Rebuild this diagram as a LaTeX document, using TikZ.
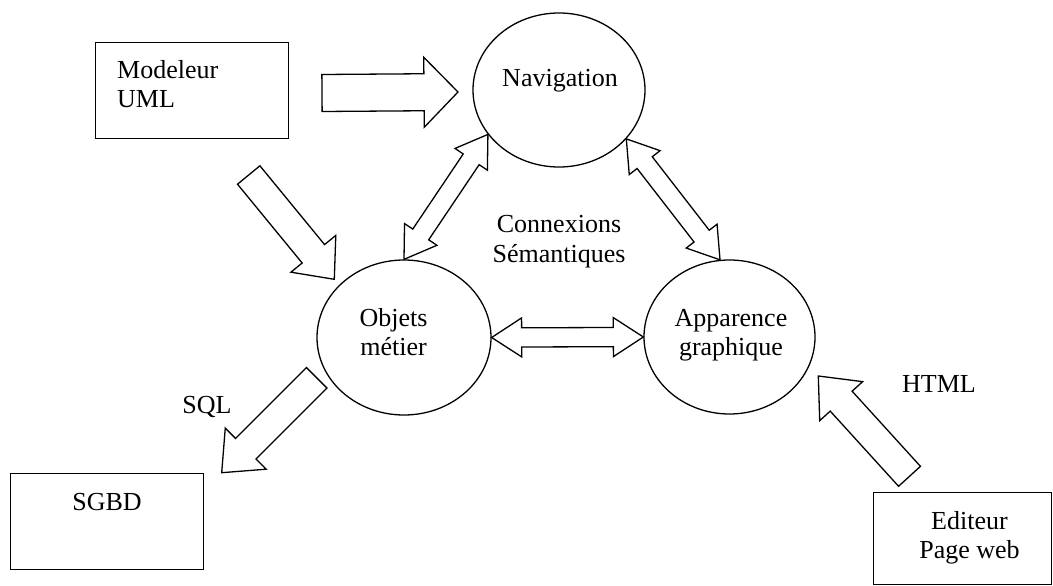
\documentclass[tikz,border=0pt]{standalone}
\usepackage{fontspec}
\setmainfont{LiberationSerif}[Extension=.ttf, UprightFont=*-Regular]
\usetikzlibrary{shapes.geometric,calc}

\tikzset{
  outline/.style={draw=black, line width=1.3pt},
  box/.style={outline, rectangle, inner sep=0pt, anchor=north west},
  bubble/.style={outline, ellipse, inner sep=0pt},
  lbl/.style={inner sep=0pt, font=\rmfamily\fontsize{26}{29.5}\selectfont},
  blockarrow/.style={outline, line join=miter},
}

% Hollow block arrow: tail, tip, shaft half-width, head half-width, head length
\newcommand\blockarrow[5]{%
  \coordinate (bkB) at ($(#2)!#5!(#1)$);
  \draw[blockarrow] ($(#1)!#3!90:(#2)$) -- ($(bkB)!#3!90:(#2)$)
    -- ($(bkB)!#4!90:(#2)$) -- (#2) -- ($(bkB)!#4!-90:(#2)$)
    -- ($(bkB)!#3!-90:(#2)$) -- ($(#1)!#3!-90:(#2)$) -- cycle;
}
% Hollow double-headed block arrow between two tips
\newcommand\blockdarrow[5]{%
  \coordinate (bkA) at ($(#1)!#5!(#2)$);
  \coordinate (bkB) at ($(#2)!#5!(#1)$);
  \draw[blockarrow] (#1) -- ($(bkA)!#4!90:(#2)$) -- ($(bkA)!#3!90:(#2)$)
    -- ($(bkB)!#3!90:(#2)$) -- ($(bkB)!#4!90:(#2)$) -- (#2)
    -- ($(bkB)!#4!-90:(#2)$) -- ($(bkB)!#3!-90:(#2)$)
    -- ($(bkA)!#3!-90:(#2)$) -- ($(bkA)!#4!-90:(#2)$) -- cycle;
}

\begin{document}
\begin{tikzpicture}[x=1pt,y=-1pt]
  \useasboundingbox (0,0) rectangle (1053,586);

  % tools (rectangles)
  \node[box, minimum width=193pt, minimum height=96pt] (uml) at (95,42) {};
  \node[box, minimum width=193pt, minimum height=96pt] (sgbd) at (10,473) {};
  \node[box, minimum width=178pt, minimum height=92pt] (web) at (873,492) {};

  % layers (ellipses)
  \node[bubble, minimum width=172pt, minimum height=154pt] (nav) at (559,90) {};
  \node[bubble, minimum width=174pt, minimum height=155pt] (obj) at (404,337.5) {};
  \node[bubble, minimum width=171pt, minimum height=154pt] (app) at (729.5,337) {};

  % texts
  \node[lbl, anchor=base west] at (117,78) {\begin{tabular}[t]{@{}l@{}}Modeleur\\UML\end{tabular}};
  \node[lbl, anchor=base] at (107,510) {SGBD};
  \node[lbl, anchor=base] at (969.5,529) {\begin{tabular}[t]{@{}c@{}}Editeur\\Page web\end{tabular}};
  \node[lbl, anchor=base] at (560,87) {Navigation};
  \node[lbl, anchor=base] at (393.5,326) {\begin{tabular}[t]{@{}c@{}}Objets\\métier\end{tabular}};
  \node[lbl, anchor=base] at (731,326) {\begin{tabular}[t]{@{}c@{}}Apparence\\graphique\end{tabular}};
  \node[lbl, anchor=base] at (559,232.7) {\begin{tabular}[t]{@{}c@{}}Connexions\\Sémantiques\end{tabular}};
  \node[lbl, anchor=base] at (207,413) {SQL};
  \node[lbl, anchor=base] at (939,392.7) {HTML};

  % free ends of the tool arrows
  \coordinate (umlnavT) at (322,93);
  \coordinate (umlnavH) at (458,92);
  \coordinate (umlobjT) at (248.7,175);
  \coordinate (umlobjH) at (334.3,279.3);
  \coordinate (sqlT) at (316.7,377.8);
  \coordinate (sqlH) at (221.7,472.7);
  \coordinate (htmlT) at (909.5,476.3);
  \coordinate (htmlH) at (818.3,376);

  \blockarrow{umlnavT}{umlnavH}{18.5pt}{35pt}{34pt}
  \blockarrow{umlobjT}{umlobjH}{14.5pt}{29pt}{33pt}
  \blockarrow{sqlT}{sqlH}{14.5pt}{29pt}{34pt}
  \blockarrow{htmlT}{htmlH}{14.8pt}{29pt}{34pt}

  % semantic links between layers
  \blockdarrow{obj.north}{nav.212}{9.6pt}{19.5pt}{30pt}
  \blockdarrow{nav.-36.8}{app.97}{9.6pt}{19.5pt}{30pt}
  \blockdarrow{obj.east}{app.west}{9.6pt}{19.5pt}{30pt}
\end{tikzpicture}
\end{document}
